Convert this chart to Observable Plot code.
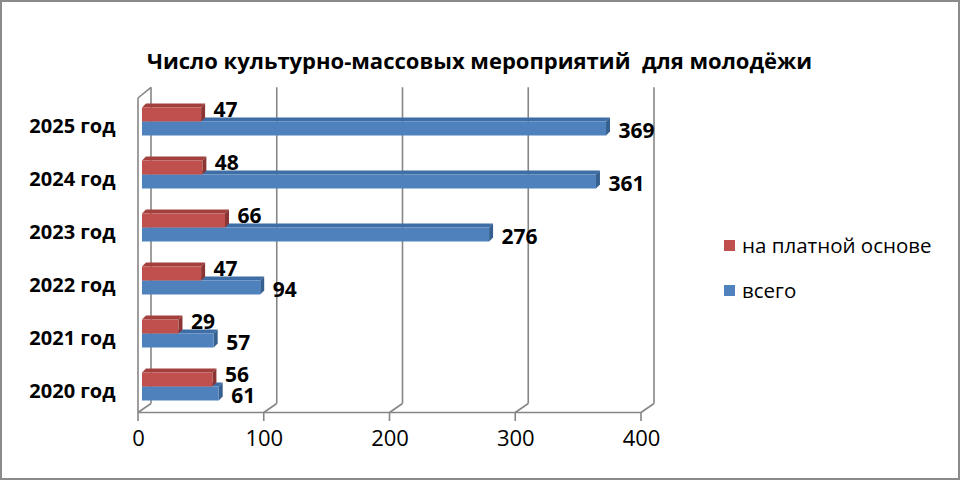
<!DOCTYPE html>
<html><head><meta charset="utf-8">
<script src="https://cdn.jsdelivr.net/npm/d3@7"></script>
<script src="https://cdn.jsdelivr.net/npm/@observablehq/plot@0.6"></script>
<style>
body{margin:0;background:#fff;}
#wrap{position:relative;width:960px;height:480px;overflow:hidden;font-family:"Open Sans",sans-serif;background:#fff;}
#chart{position:absolute;left:0;top:0;}
#border{position:absolute;left:0;top:0;width:960px;height:480px;box-sizing:border-box;border:2px solid #8a8a8a;pointer-events:none;}
.lg{position:absolute;font-size:20.5px;line-height:20px;color:#000;white-space:nowrap;}
.sw{position:absolute;width:11px;height:11px;}
</style>
</head><body>
<div id="wrap"><div id="chart"></div><div id="legend"></div><div id="border"></div></div>
<script>
const years = ["2025 год","2024 год","2023 год","2022 год","2021 год","2020 год"];
const paid  = [47, 48, 66, 47, 29, 56];
const total = [369, 361, 276, 94, 57, 61];
const seriesNames = ["на платной основе", "всего"];
const xTicks = [0, 100, 200, 300, 400];
const title = "Число культурно-массовых мероприятий  для молодёжи";

const frontColor = ["#C0504D", "#4F81BD"];
const topColor   = ["#A3403D", "#3F6DA5"];
const sideColor  = ["#8A3533", "#35608F"];

const rows = years.flatMap((y, i) => [
  {year: y, series: 0, value: paid[i]},
  {year: y, series: 1, value: total[i]}
]);

const W = 960, H = 480, mL = 138, mR = 319, mT = 94.5, mB = 67.5;
const OFF = 4, D = 4, GX = 13, GY = 9;
const insets = [[12.5, 26.5], [26.5, 12.5]];

function bw(scales, dim) {
  return typeof scales.y.bandwidth === "function" ? scales.y.bandwidth()
    : (dim.height - dim.marginTop - dim.marginBottom) / years.length;
}

function depthMark(s) {
  return (index, scales, values, dim) => {
    const g = d3.create("svg:g");
    const b = bw(scales, dim);
    rows.filter(r => r.series === s).forEach(r => {
      const x0 = scales.x(0) + OFF, x1 = scales.x(r.value) + OFF;
      const yb = scales.y(r.year);
      const t = yb + insets[s][0], bt = yb + b - insets[s][1];
      g.append("path").attr("d", `M${x0},${t}L${x0 + D},${t - D}L${x1 + D},${t - D}L${x1},${t}Z`).attr("fill", topColor[s]);
      g.append("path").attr("d", `M${x1},${t}L${x1 + D},${t - D}L${x1 + D},${bt - D}L${x1},${bt}Z`).attr("fill", sideColor[s]);
    });
    return g.node();
  };
}

function wallsMark(index, scales, values, dim) {
  const g = d3.create("svg:g").attr("stroke", "#868686").attr("stroke-width", 1.6).attr("fill", "none");
  const top = dim.marginTop, bot = dim.height - dim.marginBottom;
  const left = scales.x(xTicks[0]), right = scales.x(xTicks[xTicks.length - 1]);
  const line = (a, b, c, d) => g.append("line").attr("x1", a).attr("y1", b).attr("x2", c).attr("y2", d);
  xTicks.forEach(t => {
    const x = scales.x(t);
    line(x + GX, top - 7.2, x + GX, bot - GY);
    line(x, bot, x + GX, bot - GY);
    line(x, bot, x, bot + 8.5);
  });
  line(left, bot, right, bot);
  line(left, top + 3.5, left, bot);
  line(left, top + 3.5, left + GX, top - 7.2);
  return g.node();
}

const labelDy = [-12, 9.5];

const plot = Plot.plot({
  width: W, height: H,
  marginLeft: mL, marginRight: mR, marginTop: mT, marginBottom: mB,
  style: {fontFamily: "Open Sans", background: "white", overflow: "visible"},
  x: {domain: [0, 400], axis: null},
  y: {domain: years, padding: 0, axis: null},
  marks: [
    wallsMark,
    depthMark(1),
    Plot.barX(rows.filter(r => r.series === 1), {x: "value", y: "year", fill: frontColor[1], insetTop: insets[1][0], insetBottom: insets[1][1], dx: OFF}),
    depthMark(0),
    Plot.barX(rows.filter(r => r.series === 0), {x: "value", y: "year", fill: frontColor[0], insetTop: insets[0][0], insetBottom: insets[0][1], dx: OFF}),
    ...[0, 1].map(s => Plot.text(rows.filter(r => r.series === s), {x: "value", y: "year", text: d => String(d.value), textAnchor: "start", dx: 16, dy: labelDy[s], fontWeight: "bold", fontSize: 21, fill: "#000"})),
    Plot.text(years, {y: d => d, frameAnchor: "left", textAnchor: "end", dx: -23, dy: 5, fontWeight: "bold", fontSize: 20, fill: "#000"}),
    Plot.text(xTicks, {x: d => d, frameAnchor: "bottom", dy: 32.5, fontSize: 22, fill: "#000", text: d => String(d)}),
    Plot.text([title.replace("  ", " \u00a0")], {frameAnchor: "top", dx: 479 - (mL + (W - mL - mR) / 2), dy: -41.5, fontWeight: "bold", fontSize: 22, fill: "#000"})
  ]
});
document.getElementById("chart").appendChild(plot);

const lg = document.getElementById("legend");
const lgTops = [240, 285];
seriesNames.forEach((name, s) => {
  const sw = document.createElement("div");
  sw.className = "sw";
  sw.style.left = "724px"; sw.style.top = lgTops[s] + "px"; sw.style.background = frontColor[s];
  lg.appendChild(sw);
  const t = document.createElement("div");
  t.className = "lg";
  t.style.left = "742px"; t.style.top = (lgTops[s] - 5.5) + "px";
  t.textContent = name;
  lg.appendChild(t);
});
</script>
</body></html>
